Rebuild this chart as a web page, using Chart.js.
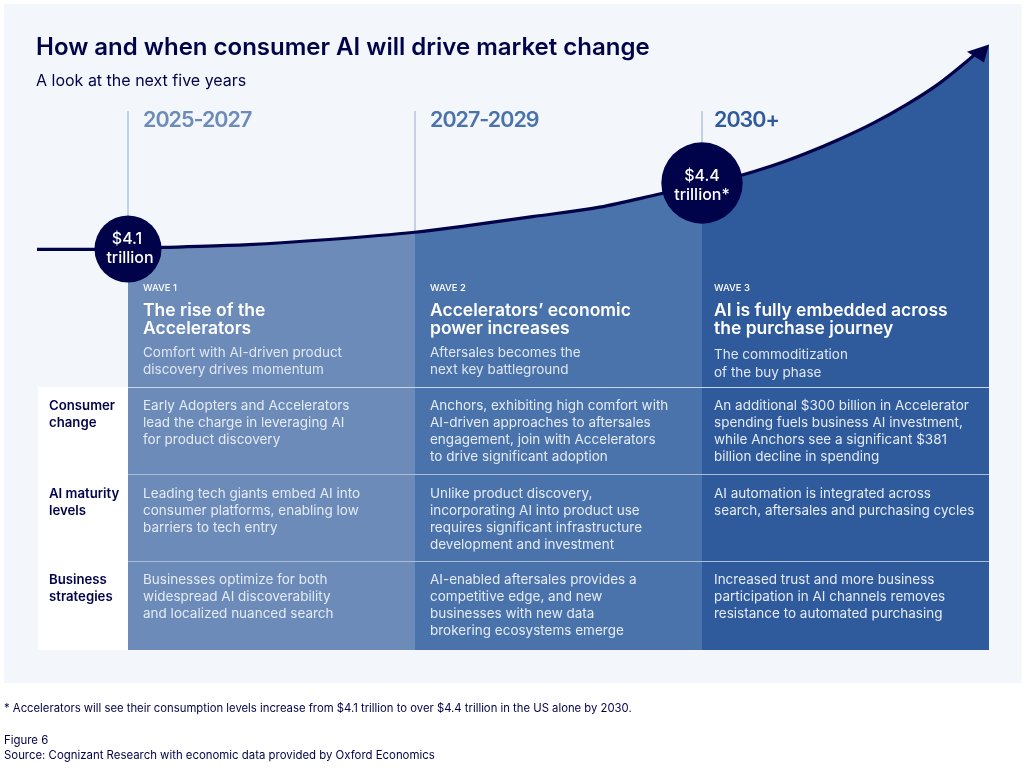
<!DOCTYPE html>
<html><head><meta charset="utf-8">
<style>html,body{margin:0;padding:0;background:#fff}canvas{display:block}</style>
<script src="https://cdn.jsdelivr.net/npm/chart.js@4/dist/chart.umd.min.js"></script>
</head><body><canvas id="c" width="1024" height="768"></canvas>
<script>
const titleText = "How and when consumer AI will drive market change";
const subtitleText = "A look at the next five years";
const periodLabels = ["2025-2027","2027-2029","2030+"];
const curvePeriod = [-0.317,-0.115,0,0.12,0.42,0.7,1,1.178,1.409,1.643,1.852,2,2.131,2.247,2.363,2.479,2.595,2.711,2.827,2.921,2.955,3];
const curveTrillions = [4.098,4.098,4.10,4.107,4.120,4.143,4.176,4.205,4.247,4.290,4.35,4.394,4.433,4.479,4.535,4.599,4.671,4.755,4.853,4.951,4.990,5.03];
const milestonePeriod = [0,2];
const milestoneTrillions = [4.1,4.4];
const milestoneLabels = [["$4.1","trillion"],["$4.4","trillion*"]];
const waveLabels = ["WAVE 1","WAVE 2","WAVE 3"];
const waveTitles = [["The rise of the","Accelerators"],["Accelerators’ economic","power increases"],["AI is fully embedded across","the purchase journey"]];
const waveDescs = [["Comfort with AI-driven product","discovery drives momentum"],["Aftersales becomes the","next key battleground"],["The commoditization","of the buy phase"]];
const rowLabels = [["Consumer","change"],["AI maturity","levels"],["Business","strategies"]];
const rowCells = [
 [["Early Adopters and Accelerators","lead the charge in leveraging AI","for product discovery"],
  ["Anchors, exhibiting high comfort with","AI-driven approaches to aftersales","engagement, join with Accelerators","to drive significant adoption"],
  ["An additional $300 billion in Accelerator","spending fuels business AI investment,","while Anchors see a significant $381","billion decline in spending"]],
 [["Leading tech giants embed AI into","consumer platforms, enabling low","barriers to tech entry"],
  ["Unlike product discovery,","incorporating AI into product use","requires significant infrastructure","development and investment"],
  ["AI automation is integrated across","search, aftersales and purchasing cycles"]],
 [["Businesses optimize for both","widespread AI discoverability","and localized nuanced search"],
  ["AI-enabled aftersales provides a","competitive edge, and new","businesses with new data","brokering ecosystems emerge"],
  ["Increased trust and more business","participation in AI channels removes","resistance to automated purchasing"]]
];
const footnoteText = "* Accelerators will see their consumption levels increase from $4.1 trillion to over $4.4 trillion in the US alone by 2030.";
const figureText = "Figure 6";
const sourceText = "Source: Cognizant Research with economic data provided by Oxford Economics";

const NAVY="#01034a", WAVE=["#6c8bb9","#4b73ab","#2f5a9b"], FF="Inter, sans-serif";
const YMIN=2.277;
const pts=(lo,hi)=>curvePeriod.map((x,i)=>({x,y:curveTrillions[i]})).filter(p=>p.x>=lo&&p.x<=hi);
const area=(i,lo,hi)=>({data:pts(lo,hi),backgroundColor:WAVE[i],borderWidth:0,pointRadius:0,fill:{value:YMIN},cubicInterpolationMode:'monotone',order:5,clip:false});

function T(ctx,s,x,y,font,color,align,ls){ctx.font=font;ctx.fillStyle=color;ctx.textAlign=align||'left';ctx.textBaseline='alphabetic';ctx.letterSpacing=(ls||0)+'px';ctx.fillText(s,x,y);}

const deco={id:'deco',
 beforeDraw(ch){const c=ch.ctx;c.save();c.fillStyle='#f3f6fb';c.fillRect(4,4,1017.5,679);c.restore();},
 beforeDatasetsDraw(ch){const c=ch.ctx,X=ch.scales.x,Y=ch.scales.y;c.save();c.strokeStyle='#b4c4dd';c.lineWidth=1.5;
  [0,1,2].forEach(p=>{const v=curveTrillions[curvePeriod.indexOf(p)],x=X.getPixelForValue(p);c.beginPath();c.moveTo(x,111);c.lineTo(x,Y.getPixelForValue(v));c.stroke();});c.restore();},
 afterDatasetsDraw(ch){const c=ch.ctx,X=ch.scales.x,Y=ch.scales.y;c.save();
  const x0=X.getPixelForValue(0),x3=X.getPixelForValue(3);
  c.fillStyle='#ffffff';c.fillRect(38,387,x0-38,263);
  [[387.5,'#c9d5e8'],[474.5,'#a9bcd8'],[561.5,'#a9bcd8']].forEach(([y,col])=>{c.strokeStyle=col;c.lineWidth=1.2;c.beginPath();c.moveTo(x0,y);c.lineTo(x3,y);c.stroke();});
  const n=curvePeriod.length-1,tx=X.getPixelForValue(curvePeriod[n]),ty=Y.getPixelForValue(curveTrillions[n]);
  c.fillStyle=NAVY;c.beginPath();c.moveTo(tx,ty);c.lineTo(tx-22,ty+7.4);c.lineTo(tx-5,ty+18);c.closePath();c.fill();
  c.restore();},
 afterDraw(ch){const c=ch.ctx,X=ch.scales.x;c.save();
  T(c,titleText,36,55,"600 24px "+FF,NAVY);
  T(c,subtitleText,36,85.5,"400 16px "+FF,NAVY);
  const colX=[0,1,2].map(p=>X.getPixelForValue(p)+(p===2?12:15));
  periodLabels.forEach((s,i)=>T(c,s,colX[i],127,"600 21.5px "+FF,WAVE[i],'left',-1));
  milestoneLabels.forEach((l,i)=>{const x=X.getPixelForValue(milestonePeriod[i]);
    const ys=i===0?[243.7,262.7]:[181,200];
    T(c,l[0],x+(i===0?-1:0),ys[0],"500 16px "+FF,'#fff','center');
    T(c,l[1],x+(i===0?2:0),ys[1],"500 16px "+FF,'#fff','center');});
  colX.forEach((x,i)=>{
    T(c,waveLabels[i],x,290.7,"500 9.5px "+FF,'#fff');
    waveTitles[i].forEach((s,k)=>T(c,s,x,316+18*k,"600 17.5px "+FF,'#fff'));
    const dy=i===2?359.3:356.7;
    waveDescs[i].forEach((s,k)=>T(c,s,x,dy+17.2*k,"400 13.5px "+FF,'#dfe7f3'));
  });
  const rowY=[410,497.7,584.3];
  rowLabels.forEach((l,r)=>l.forEach((s,k)=>T(c,s,49,rowY[r]+17*k,"600 13.2px "+FF,NAVY)));
  rowCells.forEach((row,r)=>row.forEach((cell,i)=>cell.forEach((s,k)=>T(c,s,colX[i],rowY[r]+17*k,"400 13.5px "+FF,'#e4ebf5'))));
  T(c,footnoteText,4,712.3,"400 11.3px "+FF,NAVY);
  T(c,figureText,4,743.7,"400 11.4px "+FF,NAVY);
  T(c,sourceText,4,759.3,"400 11.4px "+FF,NAVY);
  c.restore();}
};

new Chart(document.getElementById('c'),{
 type:'line',
 data:{datasets:[
  area(0,0,1),area(1,1,2),area(2,2,3),
  {data:pts(-1,2.96),borderColor:NAVY,borderWidth:3.2,pointRadius:0,fill:false,cubicInterpolationMode:'monotone',order:2,clip:false},
  {data:milestonePeriod.map((x,i)=>({x,y:milestoneTrillions[i]})),showLine:false,pointRadius:[33.5,40.7],pointHoverRadius:[33.5,40.7],pointBackgroundColor:NAVY,pointBorderWidth:0,order:1,clip:false}
 ]},
 options:{responsive:false,animation:false,devicePixelRatio:1,
  layout:{autoPadding:false,padding:{left:36,right:35,top:40,bottom:118}},
  plugins:{legend:{display:false},tooltip:{enabled:false},title:{display:false}},
  scales:{x:{type:'linear',min:-92/287,max:3,display:false},y:{type:'linear',min:YMIN,max:5.05,display:false}}
 },
 plugins:[deco]
});
</script></body></html>
